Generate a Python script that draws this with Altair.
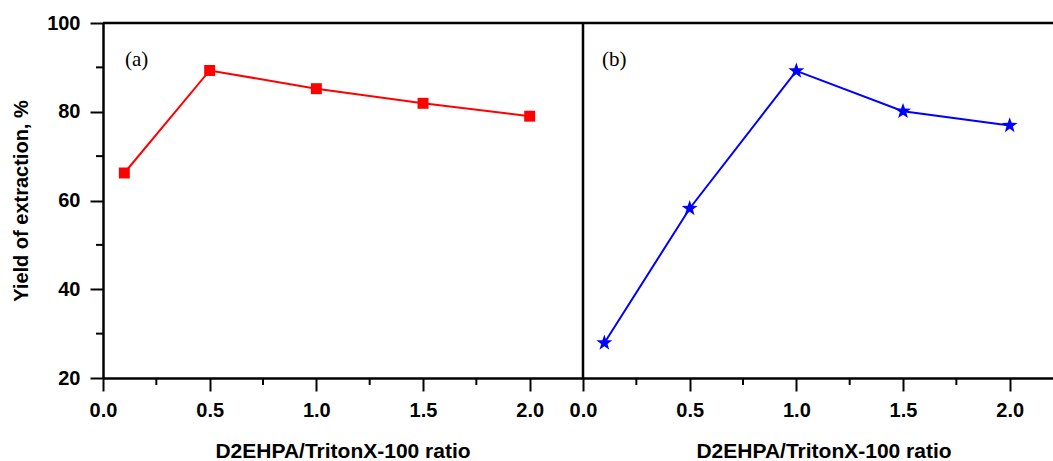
import altair as alt
import pandas as pd

# ---- data ----
ratio = [0.1, 0.5, 1.0, 1.5, 2.0]
yield_a = [66.2, 89.3, 85.2, 81.9, 79.0]
yield_b = [27.9, 58.2, 89.2, 80.1, 76.9]
x_ticks = [0.0, 0.5, 1.0, 1.5, 2.0]
x_minor = [0.25, 0.75, 1.25, 1.75]
y_ticks = [20, 40, 60, 80, 100]
y_minor = [30, 50, 70, 90]
panel_labels = ["(a)", "(b)"]
x_title = "D2EHPA/TritonX-100 ratio"
y_title = "Yield of extraction, %"

FONT = "Liberation Sans"
SERIF = "Liberation Serif"
OFF = 2.25          # panel (b) starts where panel (a) ends
XMAX = 4.453        # right panel is cut by the picture edge
W, H = 950, 355
LW = 2.5
STAR = ("M0,-1 L0.235,-0.324 L0.951,-0.309 L0.38,0.124 L0.588,0.809 "
        "L0,0.4 L-0.588,0.809 L-0.38,0.124 L-0.951,-0.309 L-0.235,-0.324 Z")

df_a = pd.DataFrame({"ratio": ratio, "pct": yield_a})
df_b = pd.DataFrame({"ratio": ratio, "pct": yield_b})
df_xm = pd.DataFrame({"v": x_minor})
df_ym = pd.DataFrame({"v": y_minor})
df_la = pd.DataFrame({"label": [panel_labels[0]]})
df_lb = pd.DataFrame({"label": [panel_labels[1]]})
df_t = pd.DataFrame({"t": [x_title]})

xs = alt.Scale(domain=[0, XMAX], nice=False, zero=False)
ys = alt.Scale(domain=[20, 100], nice=False, zero=False)

tick_vals = x_ticks + [v + OFF for v in x_ticks]
label_expr = ("datum.value > 2.2 ? format(datum.value - 2.25, '.1f') "
              ": format(datum.value, '.1f')")

x_axis = alt.Axis(values=tick_vals, labelExpr=label_expr, tickSize=13,
                  tickWidth=2, tickColor="black", domainColor="black",
                  domainWidth=LW, labelFont=FONT, labelFontSize=20,
                  labelFontWeight="bold", labelColor="black", labelPadding=9,
                  labelFlush=False, title=None, grid=False)
y_axis = alt.Axis(values=y_ticks, format="d", tickSize=13, tickWidth=2,
                  tickColor="black", domainColor="black", domainWidth=LW,
                  labelFont=FONT, labelFontSize=20, labelFontWeight="bold",
                  labelColor="black", labelPadding=10,
                  title=y_title, titleFont=FONT, titleFontSize=20,
                  titleFontWeight="bold", titleColor="black", titlePadding=15,
                  grid=False)

X = lambda f: alt.X(f, scale=xs, axis=x_axis)
Y = lambda f: alt.Y(f, scale=ys, axis=y_axis)

# panel (a)
line_a = alt.Chart(df_a).mark_line(color="#FF0000", strokeWidth=2).encode(
    x=X("ratio:Q"), y=Y("pct:Q"))
pts_a = alt.Chart(df_a).mark_point(shape="square", filled=True, size=120,
                                   color="#FF0000", opacity=1).encode(
    x=X("ratio:Q"), y=Y("pct:Q"))

# panel (b), shifted right by one panel width in the shared scale
line_b = alt.Chart(df_b).transform_calculate(xpos="datum.ratio + 2.25").mark_line(
    color="#0000FF", strokeWidth=2).encode(x=X("xpos:Q"), y=Y("pct:Q"))
pts_b = alt.Chart(df_b).transform_calculate(xpos="datum.ratio + 2.25").mark_point(
    shape=STAR, filled=True, size=280, color="#0000FF", opacity=1).encode(
    x=X("xpos:Q"), y=Y("pct:Q"))

# minor ticks
xmin_a = alt.Chart(df_xm).mark_rule(color="black", strokeWidth=2).encode(
    x=X("v:Q"), y=alt.value(H), y2=alt.value(H + 7))
xmin_b = alt.Chart(df_xm).transform_calculate(w="datum.v + 2.25").mark_rule(
    color="black", strokeWidth=2).encode(
    x=X("w:Q"), y=alt.value(H), y2=alt.value(H + 7))
ymin = alt.Chart(df_ym).mark_rule(color="black", strokeWidth=2).encode(
    y=Y("v:Q"), x=alt.value(-7), x2=alt.value(0))

# frame: top edge and divider between panels
top = alt.Chart(df_t).mark_rule(color="black", strokeWidth=LW).encode(
    x=alt.value(0), x2=alt.value(W), y=alt.value(0))
div = alt.Chart(df_t).mark_rule(color="black", strokeWidth=LW).encode(
    x=alt.value(480), y=alt.value(0), y2=alt.value(H))

# panel letters
lab_a = alt.Chart(df_la).mark_text(font=SERIF, fontSize=21, align="left",
                                   baseline="alphabetic", color="black").encode(
    text="label:N", x=alt.value(22), y=alt.value(43))
lab_b = alt.Chart(df_lb).mark_text(font=SERIF, fontSize=21, align="left",
                                   baseline="alphabetic", color="black").encode(
    text="label:N", x=alt.value(499), y=alt.value(43))

# x titles, one per panel
tit_a = alt.Chart(df_t).mark_text(font=FONT, fontSize=21, fontWeight="bold",
                                  align="center", baseline="alphabetic",
                                  color="black").encode(
    text="t:N", x=alt.value(240), y=alt.value(H + 80))
tit_b = alt.Chart(df_t).mark_text(font=FONT, fontSize=21, fontWeight="bold",
                                  align="center", baseline="alphabetic",
                                  color="black").encode(
    text="t:N", x=alt.value(721), y=alt.value(H + 80))

chart = alt.layer(
    line_a, pts_a, line_b, pts_b, xmin_a, xmin_b, ymin, top, div,
    lab_a, lab_b, tit_a, tit_b
).properties(
    width=W, height=H,
    autosize=alt.AutoSizeParams(type="none"),
    padding={"left": 103, "top": 23, "right": 0, "bottom": 83},
    background="white",
).configure_view(strokeWidth=0)

chart.save("out.html", embed_options={"renderer": "svg", "actions": False})
